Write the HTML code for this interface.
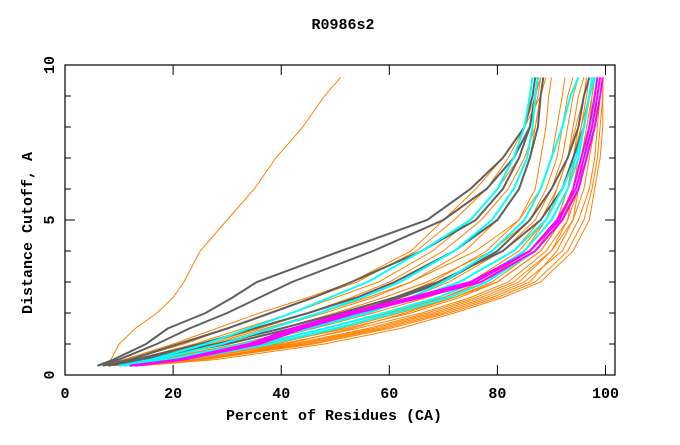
<!DOCTYPE html>
<html><head><meta charset="utf-8"><style>
body{margin:0;background:#fff}
svg text{font-family:"Liberation Mono",monospace;font-weight:bold;font-size:15px;fill:#000}
</style></head><body>
<svg id="chart" width="680" height="440" xmlns="http://www.w3.org/2000/svg">
<rect width="680" height="440" fill="#fff"/>
<text x="343" y="29" text-anchor="middle">R0986s2</text>
<text x="334" y="420" text-anchor="middle">Percent of Residues (CA)</text>
<text transform="translate(32,233) rotate(-90)" text-anchor="middle">Distance Cutoff, A</text>
<g id="axes"></g>
<g id="lines"></g>
<rect x="65" y="65" width="550" height="310" fill="none" stroke="#000" stroke-width="1.2"/>
</svg>
<script>
const cutoffs=[0.3,0.5,1,1.5,2,2.5,3,4,5,6,7,8,9,9.6];
const xTicks=[0,20,40,60,80,100];
const yTicks=[0,5,10];
const orange=[
[10,20,38,52,64,73,80,88,92,94,95.5,96.5,97.5,98],
[11,22,42,56,67,76,83,90,94,96,97,98,98.5,99],
[12,24,44,58,69,78,85,92,95,97,98,98.5,99,99.5],
[9,18,35,48,60,70,77,86,91,93,94.5,95.5,96.5,97],
[13,26,46,60,71,80,87,93,96,97.5,98.5,99,99.5,99.5],
[10,21,40,54,66,75,82,89,93,95,96,97,98,98.5],
[11,23,41,53,63,72,79,87,91,93,94,95,96,96.5],
[12,25,45,59,70,79,86,91,94,95,96,97,97.5,98],
[14,28,48,62,72,81,88,94,97,98,99,99.5,99.5,99.5],
[10,19,37,50,61,70,78,85,89,91,93,94.5,96,97],
[11,22,39,51,62,72,80,88,92,94.5,96,97,98,98.5],
[12,24,43,57,68,77,84,90,93,94,95,96,97,97.5],
[9,17,33,46,57,67,75,84,89,92,94,95.5,97,98],
[8,15,28,38,48,57,64,74,80,84,86,87,88,88.5],
[8,14,26,36,45,53,60,70,77,82,85,87,88,88.5],
[7,13,24,33,42,50,58,68,75,80,84,86,87.5,88],
[8,16,30,42,52,61,68,78,84,87,88,89,89.5,90],
[9,17,32,44,55,64,71,81,87,90,92,93,94,95],
[7,12,22,30,38,46,54,65,72,78,82,85,87,88],
[8,15,29,40,50,59,67,79,86,89,91,92,93,94],
[9,18,34,46,56,65,73,83,88,91,93,94,95,96],
[7,11,20,28,36,45,53,64,70,76,81,85,88,89],
[8,14,27,37,47,56,64,76,84,88,90,91,92,92.5],
[8,8.5,10,13,17,20,22,25,30,35,39,44,48,51]
];
const gray=[
[6,9,15,19,26,31,35.5,51,67,75,81,85,86.5,87],
[6,10,17,23,30,36,42,57,70,78,83,86,87,87.5],
[7,12,21,30,38,46,53,66,76,81,84,86,87,87.5],
[7,13,25,35,45,54,61,72,80,84,86,87.5,88,88.5],
[8,15,30,42,53,62,70,80,86,90,93,95,96,97],
[8,14,28,40,51,61,69,81,88,92,94,96,97,98]
];
const cyan=[
[10,16,26,34,42,49,56,66,75,80,83,85,86,86.5],
[11,17,29,38,47,55,62,72,79,83,85.5,86.5,87,87.5],
[12,20,34,45,56,64,70,79,85,88,90,92,93.5,95],
[11,21,36,48,59,69,76,85,90,93,95,96,97,97.5],
[10,19,33,44,55,65,73,83,89,92,94.5,96,97,98],
[12,22,38,50,61,71,78,87,92,95,96.5,97.5,98,98.5]
];
const magenta=[
[12,21,34,42,52,64,75,86,91,94.5,96,97.5,98.5,99],
[13,22,36,44,54,66,77,87,92,95,96.5,98,99,99.5],
[12,21,35,43,53,65,76,86,91.5,94,95.5,97,98,98.5]
];
const NS="http://www.w3.org/2000/svg";
function xs(v){return 65+v*5.405;}
function ys(v){return 375-v*31;}
const axes=document.getElementById('axes');
xTicks.forEach(t=>{
  const l=document.createElementNS(NS,'line');
  
  
  l.setAttribute('x1',xs(t));l.setAttribute('x2',xs(t));l.setAttribute('y1',375);l.setAttribute('y2',365);l.setAttribute('stroke','#000');
  axes.appendChild(l);
  const l2=l.cloneNode();l2.setAttribute('y1',65);l2.setAttribute('y2',75);axes.appendChild(l2);
  const tx=document.createElementNS(NS,'text');
  
  
  tx.setAttribute('x',xs(t));tx.setAttribute('y',398);tx.setAttribute('text-anchor','middle');tx.textContent=t;
  axes.appendChild(tx);
});
for(let i=0;i<=10;i++){
  const l=document.createElementNS(NS,'line');
  
  
  l.setAttribute('x1',65);l.setAttribute('x2',i%5?71:75);l.setAttribute('y1',ys(i));l.setAttribute('y2',ys(i));l.setAttribute('stroke','#000');
  axes.appendChild(l);
  const l2=l.cloneNode();l2.setAttribute('x1',615);l2.setAttribute('x2',i%5?609:605);axes.appendChild(l2);
}
yTicks.forEach(t=>{
  const tx=document.createElementNS(NS,'text');
  
  
  tx.setAttribute('transform','translate(54,'+ys(t)+') rotate(-90)');tx.setAttribute('text-anchor','middle');tx.textContent=t;
  axes.appendChild(tx);
});
const g=document.getElementById('lines');
function draw(set,color,w,name){
  set.forEach(s=>{
    const p=document.createElementNS(NS,'polyline');
    
    
    p.setAttribute('points',s.map((v,i)=>xs(v)+','+ys(cutoffs[i])).join(' '));
    p.setAttribute('fill','none');p.setAttribute('stroke',color);p.setAttribute('stroke-width',w);
    g.appendChild(p);
  });
}
draw(orange,'#ff8000',1,'orange-model-line');
draw(gray,'#606060',2,'gray-model-line');
draw(cyan,'#00ffff',2,'cyan-model-line');
draw(magenta,'#ff00ff',2,'magenta-model-line');
</script>
</body></html>
